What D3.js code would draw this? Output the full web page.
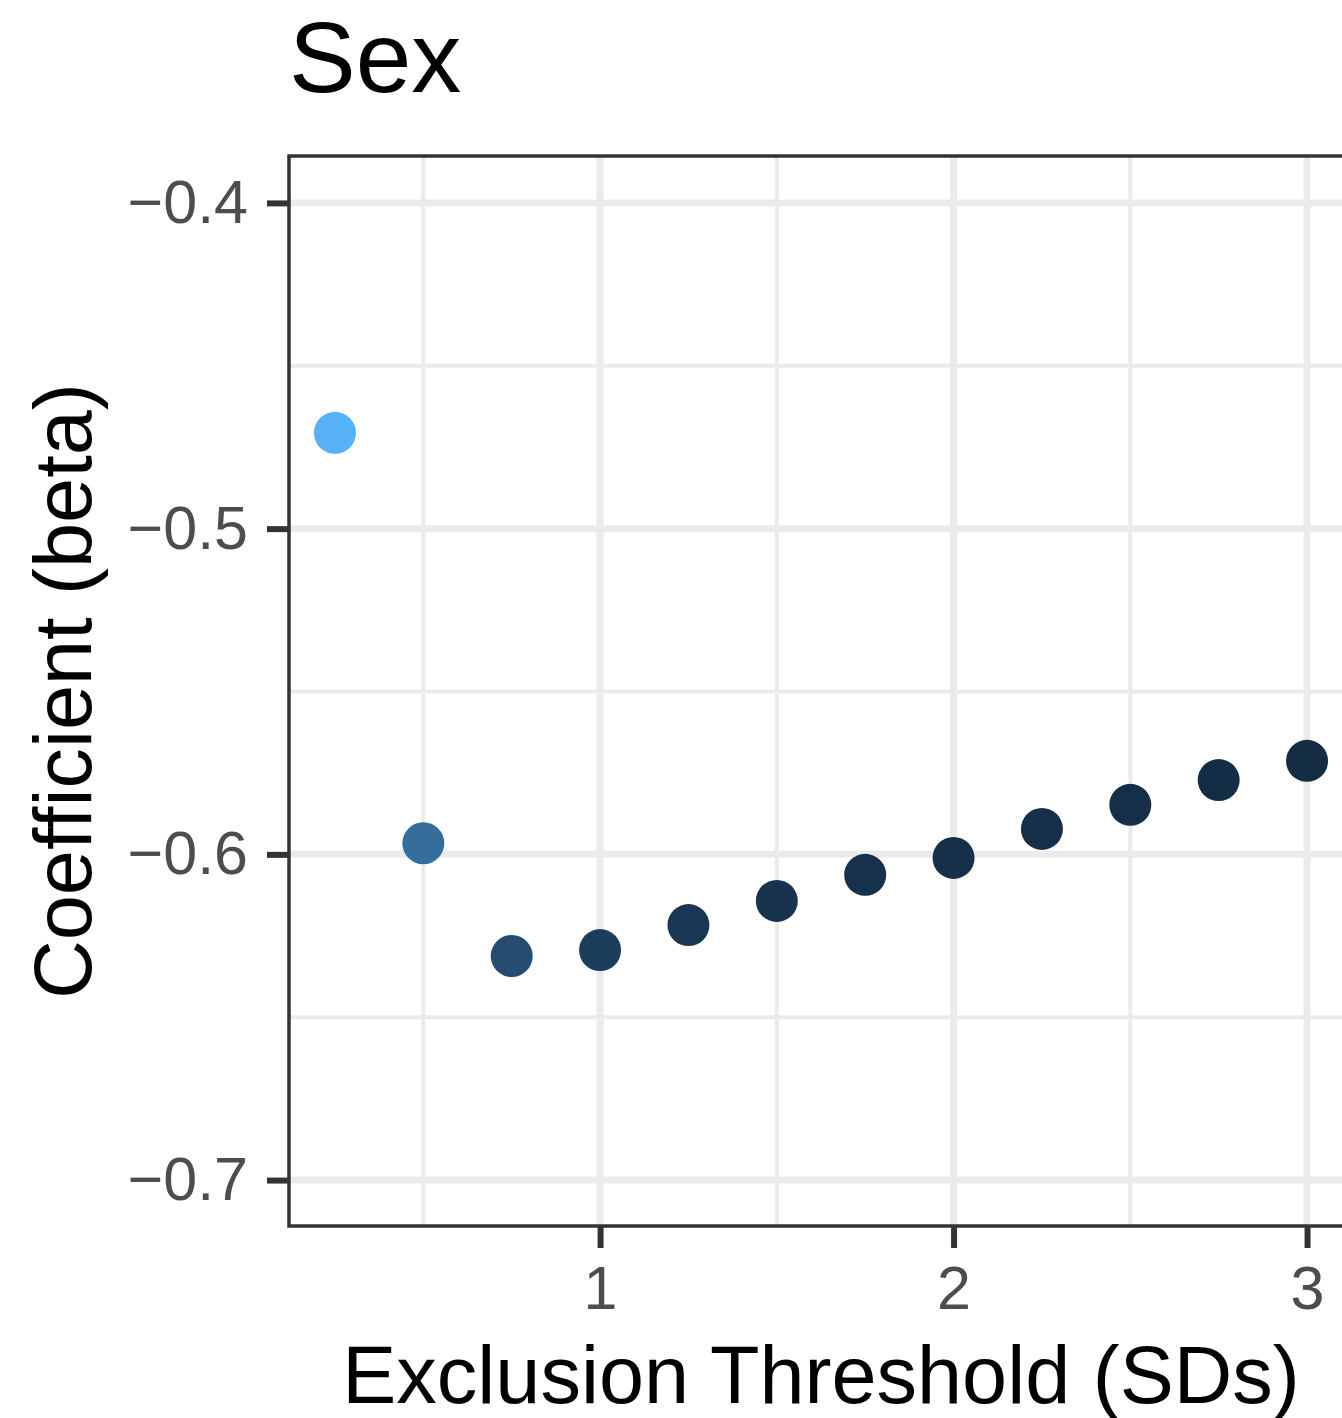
<!DOCTYPE html>
<html>
<head>
<meta charset="utf-8">
<script src="https://cdn.jsdelivr.net/npm/d3@7"></script>
<style>
  body { margin: 0; background: #fff; }
  text { font-family: "Liberation Sans", Arial, Helvetica, sans-serif; }
</style>
</head>
<body>
<svg class="chart"></svg>
<script>
// data
const thresholds = [0.25, 0.5, 0.75, 1, 1.25, 1.5, 1.75, 2, 2.25, 2.5, 2.75, 3];
const betas = [-0.4706, -0.5966, -0.6312, -0.6294, -0.6217, -0.6143, -0.6063, -0.6011, -0.5922, -0.5848, -0.5772, -0.5713];
// colour variable (0 = dark, 1 = light)
const colourVals = [1, 0.53, 0.28, 0.15, 0.1, 0.07, 0.05, 0.045, 0.035, 0.03, 0.02, 0.015];
const xTicks = [1, 2, 3];
const xMinor = [0.5, 1.5, 2.5];
const yTicks = [-0.4, -0.5, -0.6, -0.7];
const yMinor = [-0.45, -0.55, -0.65];

const data = thresholds.map((t, i) => ({x: t, y: betas[i], c: colourVals[i]}));

function chart(){
    const svg = d3.select('.chart')
    .attr('width', 1342)
    .attr('height', 1418)

    const panel = {left: 289, right: 1353, top: 156, bottom: 1226}

    //scales
    const xScale = d3.scaleLinear()
                     .domain([0.12, 3.13])
                     .range([panel.left, panel.right])

    const yScale = d3.scaleLinear()
                     .domain([-0.3856, -0.7141])
                     .range([panel.top, panel.bottom])

    const colour = d3.scaleLinear()
                     .domain([0, 1])
                     .range(['#132B43', '#56B1F7'])
                     .interpolate(d3.interpolateLab)

    const fmt = d => d3.format('.1f')(d).replace('-', '\u2212')

    //grid
    const grid = svg.append('g')
    grid.selectAll('.xminor').data(xMinor).enter().append('line')
        .attr('x1', d => xScale(d)).attr('x2', d => xScale(d))
        .attr('y1', panel.top).attr('y2', panel.bottom)
        .attr('stroke', '#EBEBEB').attr('stroke-width', 4)
    grid.selectAll('.yminor').data(yMinor).enter().append('line')
        .attr('y1', d => yScale(d)).attr('y2', d => yScale(d))
        .attr('x1', panel.left).attr('x2', panel.right)
        .attr('stroke', '#EBEBEB').attr('stroke-width', 4)
    grid.selectAll('.xmajor').data(xTicks).enter().append('line')
        .attr('x1', d => xScale(d)).attr('x2', d => xScale(d))
        .attr('y1', panel.top).attr('y2', panel.bottom)
        .attr('stroke', '#EBEBEB').attr('stroke-width', 7)
    grid.selectAll('.ymajor').data(yTicks).enter().append('line')
        .attr('y1', d => yScale(d)).attr('y2', d => yScale(d))
        .attr('x1', panel.left).attr('x2', panel.right)
        .attr('stroke', '#EBEBEB').attr('stroke-width', 7)

    //points
    svg.append('g').selectAll('circle')
       .data(data)
       .enter()
       .append('circle')
       .attr('cx', d => xScale(d.x))
       .attr('cy', d => yScale(d.y))
       .attr('r', 21)
       .attr('fill', d => colour(d.c))

    //border
    svg.append('rect')
       .attr('x', panel.left).attr('y', panel.top)
       .attr('width', panel.right - panel.left)
       .attr('height', panel.bottom - panel.top)
       .attr('fill', 'none')
       .attr('stroke', '#333333')
       .attr('stroke-width', 3.5)

    //axes
    const xAxis = d3.axisBottom(xScale).tickValues(xTicks).tickSize(22).tickPadding(18).tickFormat(d3.format('d'))
    const yAxis = d3.axisLeft(yScale).tickValues(yTicks).tickSize(22).tickPadding(19).tickFormat(fmt)

    const xAxisG = svg.append('g')
        .attr('transform', `translate(0, ${panel.bottom})`)
        .call(xAxis)
    const yAxisG = svg.append('g')
        .attr('transform', `translate(${panel.left}, 0)`)
        .call(yAxis)

    ;[xAxisG, yAxisG].forEach(a => {
        a.select('.domain').remove()
        a.selectAll('.tick line').attr('stroke', '#333333').attr('stroke-width', 6)
        a.selectAll('.tick text')
         .attr('fill', '#4D4D4D')
         .style('font-size', '61px')
         .style('font-family', '"Liberation Sans", Arial, sans-serif')
    })

    //titles
    svg.append('text')
       .attr('x', 289).attr('y', 92)
       .style('font-size', '100px')
       .attr('fill', '#000')
       .text('Sex')

    svg.append('text')
       .attr('x', (panel.left + panel.right) / 2).attr('y', 1403)
       .attr('text-anchor', 'middle')
       .style('font-size', '81px')
       .attr('fill', '#000')
       .text('Exclusion Threshold (SDs)')

    svg.append('text')
       .attr('transform', `translate(91, ${(panel.top + panel.bottom) / 2}) rotate(-90)`)
       .attr('text-anchor', 'middle')
       .style('font-size', '81px')
       .attr('fill', '#000')
       .text('Coefficient (beta)')
}
chart()
</script>
</body>
</html>
